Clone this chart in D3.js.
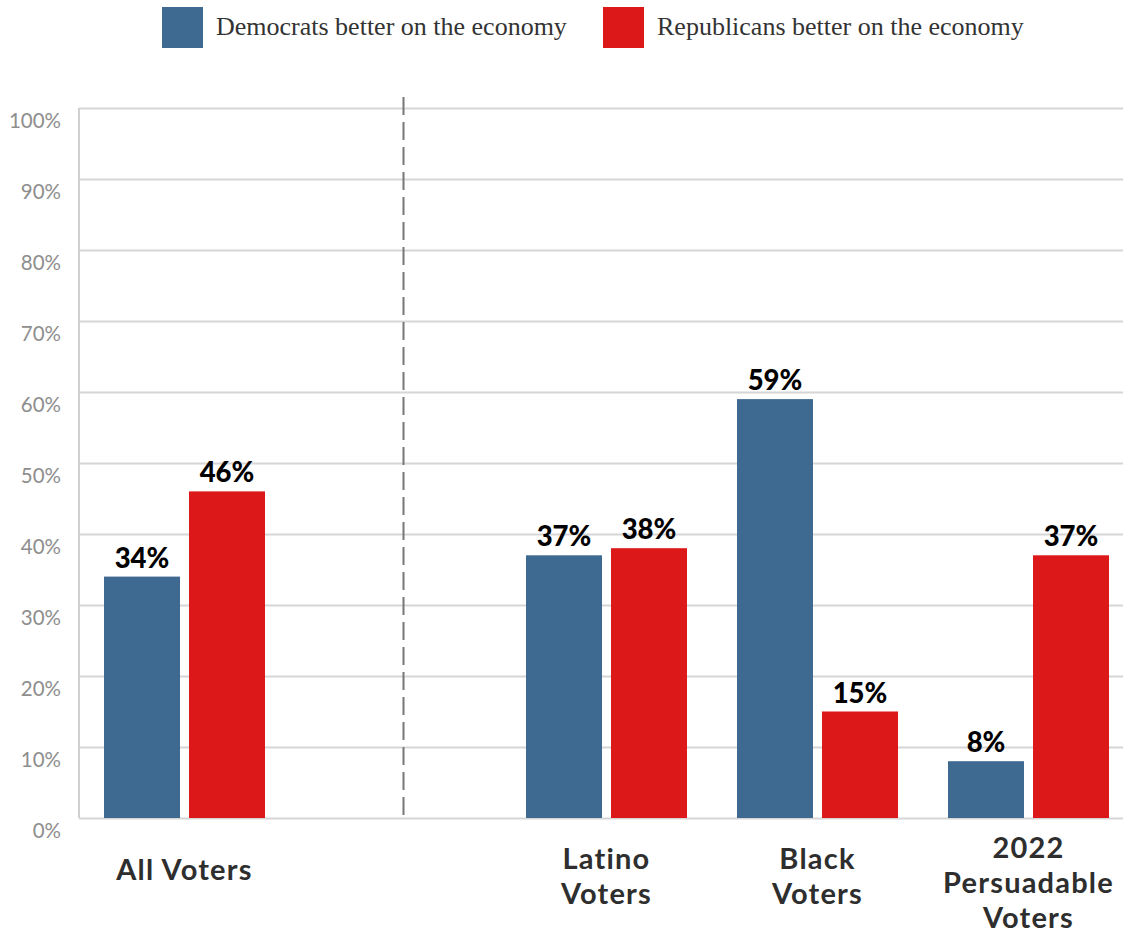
<!DOCTYPE html>
<html>
<head>
<meta charset="utf-8">
<script src="https://cdn.jsdelivr.net/npm/d3@7"></script>
<style>
  body { margin: 0; background: #fff; }
  svg { display: block; }
</style>
</head>
<body>
<svg id="chart" width="1123" height="936"></svg>
<script>
// Groups along the x axis; the empty slot holds the dashed divider.
const categories = ["All Voters", "", "Latino Voters", "Black Voters", "2022 Persuadable Voters"];
const categoryLines = [["All Voters"], [], ["Latino", "Voters"], ["Black", "Voters"], ["2022", "Persuadable", "Voters"]];
const seriesNames = ["Democrats better on the economy", "Republicans better on the economy"];
const democrats = [34, null, 37, 59, 8];
const republicans = [46, null, 38, 15, 37];
const yTicks = [0, 10, 20, 30, 40, 50, 60, 70, 80, 90, 100];
const dividerCategory = "";

const colors = ["#3e6a91", "#dc1819"];
const W = 1123, H = 936;
const margin = { left: 79, top: 108, bottom: 818 };

const svg = d3.select("#chart");

const x = d3.scaleBand()
  .domain(categories)
  .range([margin.left, margin.left + 5 * 211])
  .paddingInner(0).paddingOuter(0);

const x1 = d3.scaleBand()
  .domain([0, 1])
  .range([0, x.bandwidth()])
  .paddingInner(0.106)
  .paddingOuter(0.294);

const y = d3.scaleLinear().domain([0, 100]).range([margin.bottom, margin.top]);

// Gridlines and y tick labels
const yAxis = d3.axisLeft(y)
  .tickValues(yTicks)
  .tickSize(-(W - margin.left))
  .tickPadding(18)
  .tickFormat(d => d + "%");

const gy = svg.append("g")
  .attr("transform", `translate(${margin.left},0)`)
  .call(yAxis);
gy.select(".domain").remove();
gy.selectAll(".tick line").attr("stroke", "#d6d6d6").attr("stroke-width", 2);
gy.selectAll(".tick text")
  .attr("fill", "#8e8e8e")
  .attr("font-family", "Lato, 'Open Sans', sans-serif")
  .attr("font-size", 20.5)
  .attr("font-weight", 400)
  .attr("dy", 19)
  .attr("text-anchor", "end");

// Left axis line
svg.append("line")
  .attr("x1", margin.left).attr("x2", margin.left)
  .attr("y1", y(100)).attr("y2", y(0))
  .attr("stroke", "#d0d0d0").attr("stroke-width", 2);

// Dashed divider between the overall group and subgroups
const divX = x(dividerCategory) + x.bandwidth() / 2 + 8;
svg.append("line")
  .attr("x1", divX).attr("x2", divX)
  .attr("y1", y(100) - 11).attr("y2", y(0))
  .attr("stroke", "#777").attr("stroke-width", 2)
  .attr("stroke-dasharray", "18 7");

// Bars
const rows = categories.map((c, i) => ({ cat: c, vals: [democrats[i], republicans[i]] }))
  .filter(r => r.vals[0] != null);

const groups = svg.selectAll(".grp").data(rows).join("g")
  .attr("class", "grp")
  .attr("transform", d => `translate(${x(d.cat)},0)`);

groups.selectAll("rect").data(d => d.vals.map((v, k) => ({ v, k }))).join("rect")
  .attr("x", d => x1(d.k))
  .attr("width", x1.bandwidth())
  .attr("y", d => y(d.v))
  .attr("height", d => y(0) - y(d.v))
  .attr("fill", d => colors[d.k]);

groups.selectAll("text.val").data(d => d.vals.map((v, k) => ({ v, k }))).join("text")
  .attr("class", "val")
  .attr("x", d => x1(d.k) + x1.bandwidth() / 2)
  .attr("y", d => y(d.v) - 9)
  .attr("text-anchor", "middle")
  .attr("font-family", "Lato, 'Open Sans', sans-serif")
  .attr("font-weight", 900)
  .attr("font-size", 27.5)
  .attr("fill", "#000")
  .text(d => d.v + "%");

// Category labels, one text element per line
const lineGap = 35;
categories.forEach((c, i) => {
  const lines = categoryLines[i];
  if (!lines.length) return;
  const cx = x(c) + x.bandwidth() / 2;
  const firstBaseline = 880 - (lines.length - 1) * 11;
  lines.forEach((ln, j) => {
    svg.append("text")
      .attr("x", cx)
      .attr("y", firstBaseline + j * lineGap)
      .attr("text-anchor", "middle")
      .attr("font-family", "Lato, 'Open Sans', sans-serif")
      .attr("font-weight", 700)
      .attr("font-size", 29)
      .attr("letter-spacing", 1.2)
      .attr("fill", "#2e2e2e")
      .text(ln);
  });
});

// Legend
const legendX = [162, 603];
seriesNames.forEach((name, k) => {
  const g = svg.append("g").attr("transform", `translate(${legendX[k]},7)`);
  g.append("rect").attr("width", 41).attr("height", 41).attr("fill", colors[k]);
  g.append("text")
    .attr("x", 54).attr("y", 28)
    .attr("font-family", "'Liberation Serif', 'DejaVu Serif', serif")
    .attr("font-size", 26)
    .attr("fill", "#333")
    .text(name);
});
</script>
</body>
</html>
